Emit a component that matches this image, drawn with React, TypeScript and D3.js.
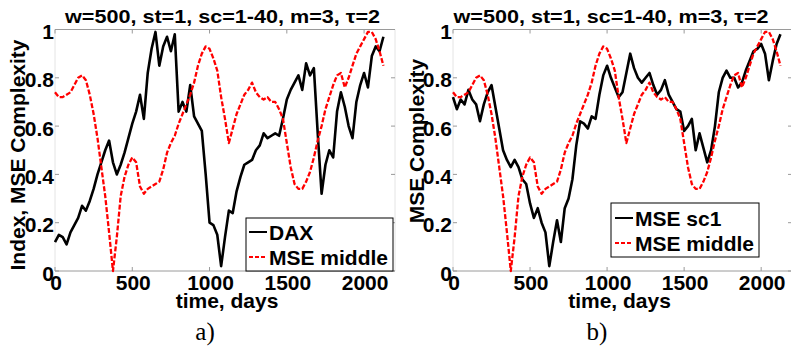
import * as d3 from 'd3';

// sampled every 25 days, starting at day 0
const dayStep = 25;

const dax = [
  0.12, 0.15, 0.14, 0.11, 0.16, 0.19, 0.22, 0.27, 0.25, 0.29,
  0.34, 0.40, 0.45, 0.50, 0.54, 0.45, 0.40, 0.44, 0.49, 0.55,
  0.61, 0.66, 0.73, 0.63, 0.82, 0.92, 0.99, 0.85, 0.93, 0.97,
  0.91, 0.98, 0.66, 0.70, 0.66, 0.77, 0.64, 0.61, 0.58, 0.40,
  0.20, 0.19, 0.15, 0.02, 0.14, 0.25, 0.24, 0.33, 0.39, 0.44,
  0.45, 0.46, 0.50, 0.52, 0.57, 0.55, 0.56, 0.57, 0.56, 0.63,
  0.71, 0.75, 0.78, 0.81, 0.75, 0.86, 0.81, 0.84, 0.57, 0.32,
  0.44, 0.50, 0.47, 0.66, 0.74, 0.68, 0.60, 0.55, 0.70, 0.77,
  0.82, 0.76, 0.89, 0.93, 0.91, 0.97
];

const mseMiddle = [
  0.74, 0.72, 0.72, 0.73, 0.74, 0.77, 0.80, 0.81, 0.79, 0.73,
  0.65, 0.55, 0.43, 0.31, 0.16, 0.00, 0.14, 0.31, 0.39, 0.44,
  0.47, 0.45, 0.35, 0.32, 0.34, 0.35, 0.36, 0.37, 0.42, 0.49,
  0.53, 0.56, 0.61, 0.65, 0.69, 0.73, 0.78, 0.85, 0.90, 0.93,
  0.92, 0.88, 0.83, 0.72, 0.63, 0.53, 0.59, 0.65, 0.69, 0.73,
  0.75, 0.78, 0.74, 0.72, 0.71, 0.72, 0.70, 0.70, 0.67, 0.63,
  0.53, 0.43, 0.36, 0.34, 0.34, 0.37, 0.41, 0.47, 0.54, 0.60,
  0.67, 0.72, 0.77, 0.81, 0.82, 0.76, 0.80, 0.85, 0.90, 0.93,
  0.96, 0.99, 0.99, 0.96, 0.91, 0.85
];

const mseSc1 = [
  0.72, 0.67, 0.71, 0.69, 0.75, 0.71, 0.69, 0.62, 0.69, 0.74,
  0.77, 0.68, 0.59, 0.50, 0.46, 0.43, 0.46, 0.43, 0.38, 0.36,
  0.28, 0.22, 0.26, 0.20, 0.16, 0.02, 0.12, 0.21, 0.12, 0.26,
  0.30, 0.38, 0.52, 0.62, 0.61, 0.59, 0.64, 0.63, 0.73, 0.81,
  0.85, 0.80, 0.76, 0.72, 0.74, 0.82, 0.90, 0.84, 0.80, 0.78,
  0.80, 0.82, 0.77, 0.73, 0.75, 0.79, 0.73, 0.70, 0.67, 0.66,
  0.58, 0.60, 0.63, 0.50, 0.57, 0.51, 0.45, 0.50, 0.60, 0.74,
  0.80, 0.83, 0.80, 0.80, 0.76, 0.78, 0.83, 0.87, 0.91, 0.92,
  0.94, 0.90, 0.79, 0.87, 0.94, 0.98
];

const xTicks = [0, 500, 1000, 1500, 2000];
const yTicks = [0, 0.2, 0.4, 0.6, 0.8, 1];
const titleText = 'w=500, st=1, sc=1-40, m=3, \u03c4=2';

const FONT = '"Liberation Sans", Arial, sans-serif';
const AXIS_GRAY = '#9a9a9a';
const SIDE_GRAY = '#e4e4e4';

interface Series {
  name: string;
  values: number[];
  color: string;
  dash?: string;
  width: number;
}

interface PanelProps {
  left: number;
  right: number;
  titleX: number;
  yLabel: string;
  yLabelX: number;
  yLabelY: number;
  xLabelX: number;
  caption: string;
  captionX: number;
  series: Series[];
  legend: { x: number; y: number; w: number; h: number; rowY: number[]; lineX: number };
}

const top = 29.5;
const bottom = 271;

function Panel({ left, right, titleX, yLabel, yLabelX, yLabelY, xLabelX, caption, captionX, series, legend }: PanelProps) {
  const xScale = d3.scaleLinear().domain([0, 2200]).range([left, right]);
  const yScale = d3.scaleLinear().domain([0, 1]).range([bottom, top]);
  const line = d3.line<number>()
    .x((_, i) => xScale(i * dayStep))
    .y(d => yScale(d));

  return (
    <g>
      {/* axes box: faint sides, grey top and bottom */}
      <line x1={left} x2={left} y1={top} y2={bottom} stroke={SIDE_GRAY} />
      <line x1={right} x2={right} y1={top} y2={bottom} stroke={SIDE_GRAY} />
      <line x1={left} x2={right} y1={top} y2={top} stroke={AXIS_GRAY} />
      <line x1={left} x2={right} y1={bottom} y2={bottom} stroke={AXIS_GRAY} />
      {xTicks.map((t, i) => (
        <g key={i}>
          <line x1={xScale(t)} x2={xScale(t)} y1={bottom} y2={bottom - 4} stroke={AXIS_GRAY} />
          <line x1={xScale(t)} x2={xScale(t)} y1={top} y2={top + 4} stroke={AXIS_GRAY} />
        </g>
      ))}
      {yTicks.map((t, i) => (
        <g key={i}>
          <line x1={left} x2={left + 4} y1={yScale(t)} y2={yScale(t)} stroke={AXIS_GRAY} />
          <line x1={right} x2={right - 4} y1={yScale(t)} y2={yScale(t)} stroke={AXIS_GRAY} />
        </g>
      ))}

      {/* lines */}
      {series.map((s, i) => (
        <path
          key={i}
          d={line(s.values) || ''}
          fill="none"
          stroke={s.color}
          strokeWidth={s.width}
          strokeDasharray={s.dash}
          strokeLinejoin="round"
        />
      ))}

      {/* tick labels */}
      {xTicks.map((t, i) => (
        <text key={i} x={xScale(t) + 1} y={290} textAnchor="middle" fontSize={21} fontWeight="bold" fontFamily={FONT}>
          {t}
        </text>
      ))}
      {yTicks.map((t, i) => (
        <text key={i} x={left - 1} y={yScale(t) + 2} textAnchor="end" dominantBaseline="central" fontSize={21} fontWeight="bold" fontFamily={FONT}>
          {t}
        </text>
      ))}

      {/* labels */}
      <text x={titleX} y={23} textAnchor="middle" fontSize={18} fontWeight="bold" fontFamily={FONT} textLength={315} lengthAdjust="spacingAndGlyphs">
        {titleText}
      </text>
      <text
        transform={`translate(${yLabelX},${yLabelY}) rotate(-90)`}
        textAnchor="middle"
        dominantBaseline="central"
        fontSize={21}
        fontWeight="bold"
        fontFamily={FONT}
      >
        {yLabel}
      </text>
      <text x={xLabelX} y={308} textAnchor="middle" fontSize={21} fontWeight="bold" fontFamily={FONT}>
        time, days
      </text>
      <text x={captionX} y={340} textAnchor="middle" fontSize={25} fontFamily='"Liberation Serif", "Times New Roman", serif'>
        {caption}
      </text>

      {/* legend */}
      <rect x={legend.x} y={legend.y} width={legend.w} height={legend.h} fill="#fff" stroke="#000" strokeWidth={1} />
      {series.map((s, i) => (
        <g key={i}>
          <line
            x1={legend.lineX}
            x2={legend.lineX + 18}
            y1={legend.rowY[i]}
            y2={legend.rowY[i]}
            stroke={s.color}
            strokeWidth={2}
            strokeDasharray={s.dash ? '4,2' : undefined}
          />
          <text x={legend.lineX + 20} y={legend.rowY[i]} dominantBaseline="central" fontSize={21} fontWeight="bold" fontFamily={FONT}>
            {s.name}
          </text>
        </g>
      ))}
    </g>
  );
}

export default function App() {
  const red = '#ff0000';
  return (
    <svg width={791} height={349} style={{ position: 'absolute', left: 0, top: 0, background: '#fff' }}>
      <Panel
        left={55}
        right={395}
        titleX={222.5}
        yLabel="Index, MSE Complexity"
        yLabelX={17}
        yLabelY={155}
        xLabelX={227}
        caption="a)"
        captionX={205}
        series={[
          { name: 'DAX', values: dax, color: '#000', width: 2.6 },
          { name: 'MSE middle', values: mseMiddle, color: red, dash: '5,2', width: 2.3 }
        ]}
        legend={{ x: 246, y: 218, w: 147, h: 53, rowY: [232, 257], lineX: 249 }}
      />
      <Panel
        left={453}
        right={792}
        titleX={611}
        yLabel="MSE Complexity"
        yLabelX={416}
        yLabelY={141}
        xLabelX={619.5}
        caption="b)"
        captionX={597}
        series={[
          { name: 'MSE sc1', values: mseSc1, color: '#000', width: 2.6 },
          { name: 'MSE middle', values: mseMiddle, color: red, dash: '5,2', width: 2.3 }
        ]}
        legend={{ x: 611, y: 203, w: 148, h: 54, rowY: [218, 243], lineX: 615 }}
      />
    </svg>
  );
}
